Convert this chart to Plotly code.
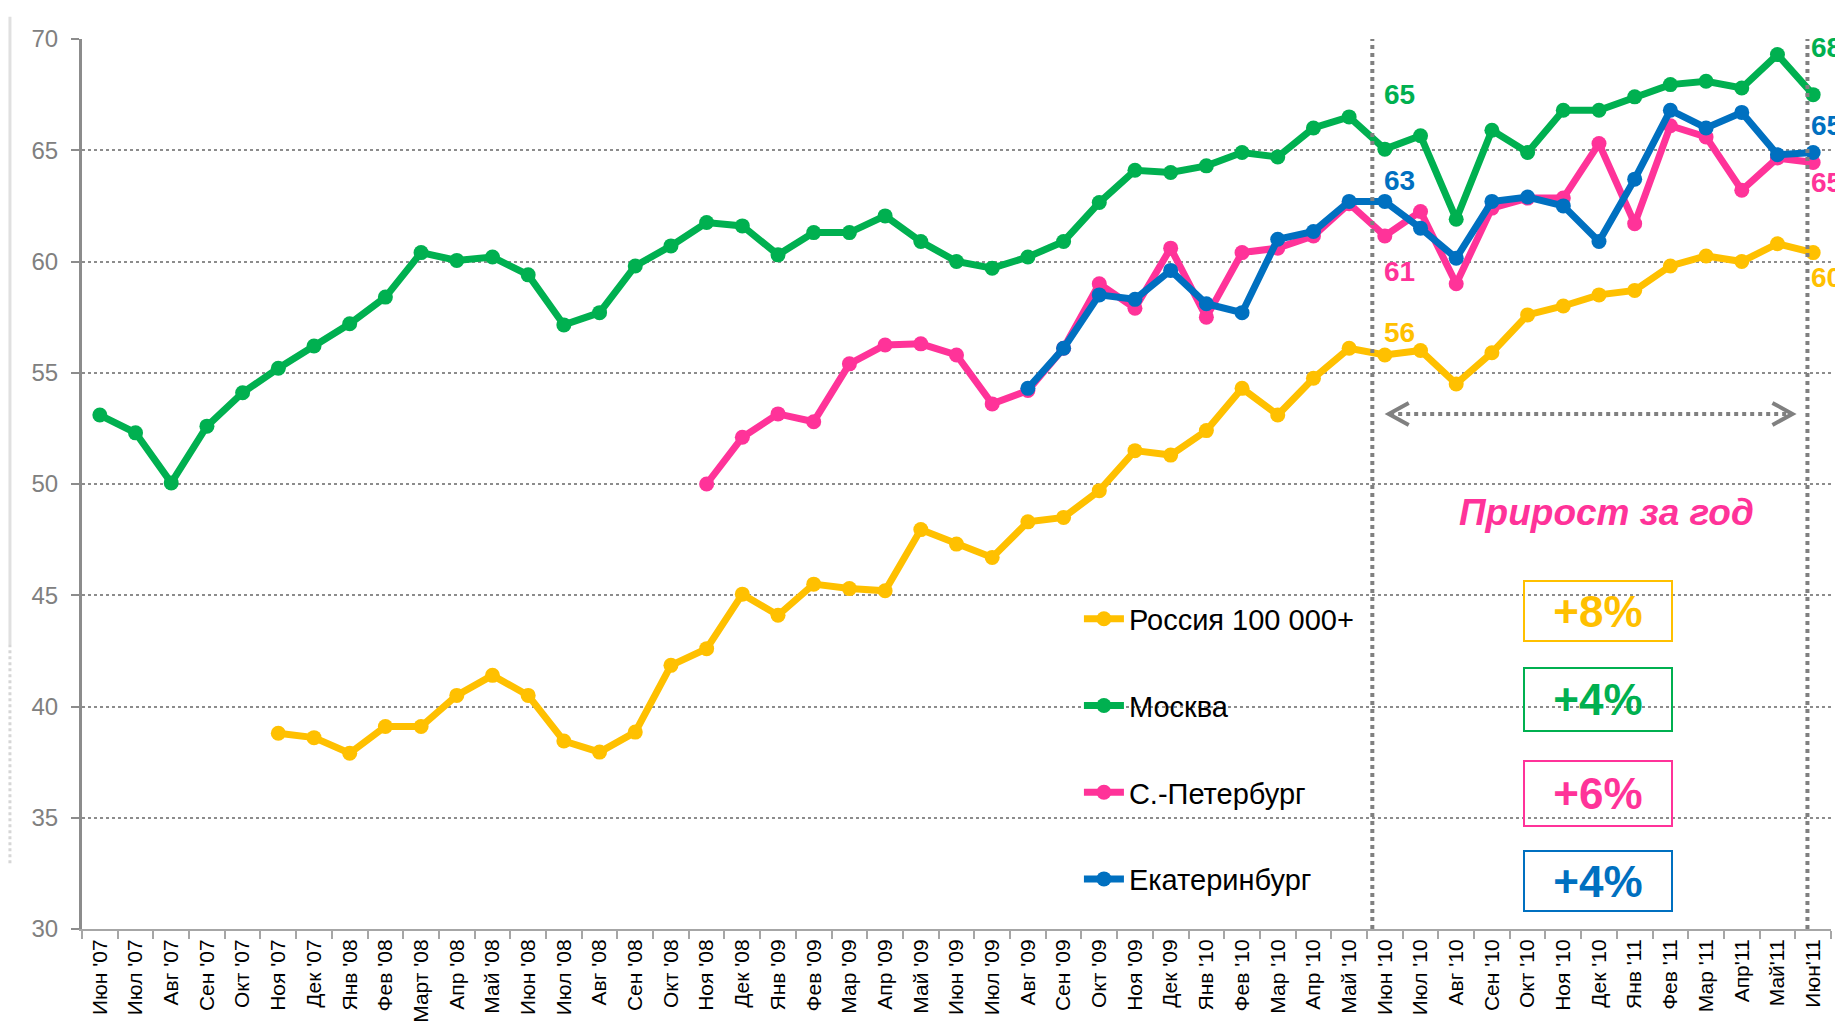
import plotly.graph_objects as go

months = ["Июн '07", "Июл '07", "Авг '07", "Сен '07", "Окт '07", "Ноя '07", "Дек '07",
          "Янв '08", "Фев '08", "Март '08", "Апр '08", "Май '08", "Июн '08", "Июл '08",
          "Авг '08", "Сен '08", "Окт '08", "Ноя '08", "Дек '08", "Янв '09", "Фев '09",
          "Мар '09", "Апр '09", "Май '09", "Июн '09", "Июл '09", "Авг '09", "Сен '09",
          "Окт '09", "Ноя '09", "Дек '09", "Янв '10", "Фев '10", "Мар '10", "Апр '10",
          "Май '10", "Июн '10", "Июл '10", "Авг '10", "Сен '10", "Окт '10", "Ноя '10",
          "Дек '10", "Янв '11", "Фев '11", "Мар '11", "Апр'11", "Май'11", "Июн'11"]

moscow = [53.1, 52.3, 50.05, 52.6, 54.1, 55.2, 56.2, 57.2, 58.4, 60.4, 60.05, 60.2, 59.4,
          57.15, 57.7, 59.8, 60.7, 61.75, 61.6, 60.3, 61.3, 61.3, 62.05, 60.9, 60.0, 59.7,
          60.2, 60.9, 62.65, 64.1, 64.0, 64.3, 64.9, 64.7, 66.0, 66.5, 65.05, 65.65, 61.9,
          65.9, 64.9, 66.8, 66.8, 67.4, 67.95, 68.1, 67.8, 69.3, 67.5]
russia_start = 5
russia = [38.8, 38.6, 37.9, 39.1, 39.1, 40.5, 41.4, 40.5, 38.45, 37.95, 38.85, 41.85, 42.6,
          45.05, 44.1, 45.5, 45.3, 45.2, 47.95, 47.3, 46.7, 48.3, 48.5, 49.7, 51.5, 51.3,
          52.4, 54.3, 53.1, 54.75, 56.1, 55.8, 56.0, 54.5, 55.9, 57.6, 58.0, 58.5, 58.7,
          59.8, 60.25, 60.0, 60.8, 60.4]
spb_start = 17
spb = [50.0, 52.1, 53.15, 52.8, 55.4, 56.25, 56.3, 55.8, 53.6, 54.2, 56.1, 59.0, 57.9,
       60.6, 57.5, 60.4, 60.6, 61.15, 62.6, 61.15, 62.25, 59.0, 62.4, 62.85, 62.85, 65.3,
       61.7, 66.1, 65.6, 63.2, 64.65, 64.45]
ekb_start = 26
ekb = [54.3, 56.1, 58.5, 58.3, 59.6, 58.1, 57.7, 61.0, 61.35, 62.7, 62.7, 61.5, 60.15,
       62.7, 62.9, 62.5, 60.9, 63.7, 66.8, 66.0, 66.7, 64.8, 64.9]

series_names = ["Россия 100 000+", "Москва", "С.-Петербург", "Екатеринбург"]
colors = ["#FFC000", "#00B050", "#FF3399", "#0070C0"]
growth = ["+8%", "+4%", "+6%", "+4%"]
jun10_labels = ["56", "65", "61", "63"]
jun11_labels = ["60", "68", "65", "65"]
y_ticks = [30, 35, 40, 45, 50, 55, 60, 65, 70]

FONT = "Liberation Sans, Arial, sans-serif"

fig = go.Figure()

def add_series(name, xs, ys, color, rank):
    fig.add_trace(go.Scatter(
        x=xs, y=ys, name=name, mode="lines+markers",
        line=dict(color=color, width=7),
        marker=dict(color=color, size=15),
        legendgroup=name, legendrank=rank,
    ))

add_series(series_names[1], months, moscow, colors[1], 2)
add_series(series_names[0], months[russia_start:], russia, colors[0], 1)
add_series(series_names[2], months[spb_start:], spb, colors[2], 3)
add_series(series_names[3], months[ekb_start:], ekb, colors[3], 4)

GRAY = "#808080"
shapes = []
# vertical dotted lines (year window)
for xv in [35.65, 47.84]:
    shapes.append(dict(type="line", xref="x", yref="y", x0=xv, x1=xv, y0=30, y1=70,
                       line=dict(color=GRAY, width=4, dash="dot"), layer="above"))
# double arrow
ay = 53.15
shapes.append(dict(type="line", xref="x", yref="y", x0=36.15, x1=47.38, y0=ay, y1=ay,
                   line=dict(color=GRAY, width=4, dash="dot")))
shapes.append(dict(type="path", xref="x", yref="y", xsizemode="pixel", ysizemode="pixel",
                   xanchor=36.11, yanchor=ay, path="M 20,11 L 0,0 L 20,-11",
                   line=dict(color=GRAY, width=4)))
shapes.append(dict(type="path", xref="x", yref="y", xsizemode="pixel", ysizemode="pixel",
                   xanchor=47.42, yanchor=ay, path="M -20,11 L 0,0 L -20,-11",
                   line=dict(color=GRAY, width=4)))
# left decorative strip
shapes.append(dict(type="line", xref="paper", yref="paper", x0=-0.0412, x1=-0.0412,
                   y0=1.025, y1=0.32, line=dict(color="#e0e0e0", width=3)))
shapes.append(dict(type="line", xref="paper", yref="paper", x0=-0.0412, x1=-0.0412,
                   y0=0.32, y1=0.072, line=dict(color="#d6d6d6", width=3, dash="dot")))

annotations = []
# growth boxes
box_y = [44.38, 40.40, 36.18, 32.26]
box_h = [58, 61, 63, 58]
for g, c, yv, h in zip(growth, colors, box_y, box_h):
    annotations.append(dict(x=41.98, y=yv, xref="x", yref="y", text="<b>%s</b>" % g,
                            showarrow=False, width=146, height=h, borderpad=0,
                            bordercolor=c, borderwidth=2, yshift=-2,
                            font=dict(family=FONT, size=44, color=c)))
annotations.append(dict(x=42.2, y=48.74, xref="x", yref="y",
                        text="<b><i>Прирост за год</i></b>", showarrow=False,
                        font=dict(family=FONT, size=37, color="#FF3399")))
# value labels
jun10_y = [56.79, 67.52, 59.56, 63.65]
jun11_y = [59.26, 69.6, 63.53, 66.12]
for t, c, yv in zip(jun10_labels, colors, jun10_y):
    annotations.append(dict(x=36, y=yv, xref="x", yref="y", text="<b>%s</b>" % t,
                            showarrow=False, xanchor="left", xshift=-3,
                            font=dict(family=FONT, size=28, color=c)))
for t, c, yv in zip(jun11_labels, colors, jun11_y):
    annotations.append(dict(x=48, y=yv, xref="x", yref="y", text="<b>%s</b>" % t,
                            showarrow=False, xanchor="left", xshift=-4,
                            font=dict(family=FONT, size=28, color=c)))

fig.update_layout(
    width=1843, height=1029,
    margin=dict(l=74, r=20, t=31, b=108),
    plot_bgcolor="white", paper_bgcolor="white",
    font=dict(family=FONT),
    shapes=shapes, annotations=annotations,
    showlegend=True,
    legend=dict(x=0.570, y=0.377, xanchor="left", yanchor="top",
                font=dict(family=FONT, size=29, color="black"),
                tracegroupgap=46, bgcolor="rgba(0,0,0,0)", itemwidth=40),
    xaxis=dict(type="category", categoryorder="array", categoryarray=months,
               range=[-0.5, 48.5], tickangle=-90, tickson="boundaries",
               ticks="outside", ticklen=8, tickcolor="#a6a6a6", tickwidth=2,
               showline=True, linecolor="#a6a6a6", linewidth=2, showgrid=False,
               tickfont=dict(family=FONT, size=21, color="black")),
    yaxis=dict(range=[30, 70], tickvals=y_ticks, ticks="outside", ticklen=8,
               tickcolor="#8c8c8c", tickwidth=2, showline=True, linecolor="#8c8c8c",
               linewidth=3, showgrid=True, gridcolor="#8c8c8c", griddash="dot",
               gridwidth=1.5, zeroline=False, ticklabelstandoff=8,
               tickfont=dict(family=FONT, size=24, color="#808080")),
)

fig.write_html("out.html")
